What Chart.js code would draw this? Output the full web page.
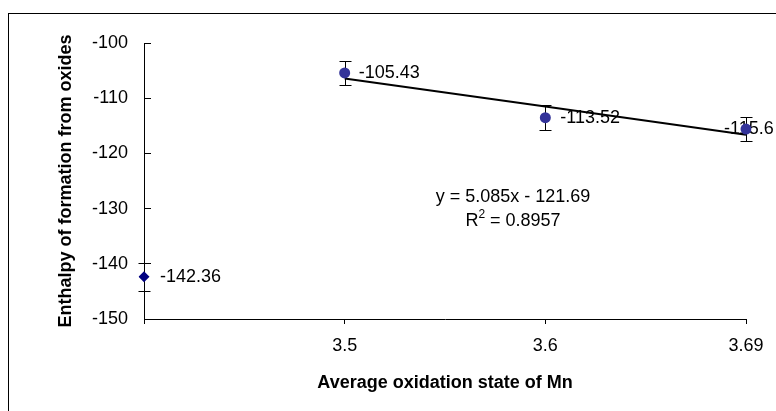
<!DOCTYPE html>
<html>
<head>
<meta charset="utf-8">
<script src="https://cdn.jsdelivr.net/npm/chart.js@4.4.0/dist/chart.umd.min.js"></script>
<style>
body{ margin:0; background:#fff; }
</style>
</head>
<body>
<canvas id="myChart" width="776" height="411"></canvas>
<script>

//------------------------------------------------------------------
// data

const oxidation_state = ['', '3.5', '3.6', '3.69'];
const enthalpy = [-142.36, -105.43, -113.52, -115.6];
const enthalpy_err = [2.5, 2.1, 2.2, 2.2];
const y_ticks = [-150, -140, -130, -120, -110, -100];
const fit_equation = 'y = 5.085x - 121.69';
const fit_r2 = '0.8957';

//------------------------------------------------------------------
// least squares line over the three mixed-valence points (index 1..3)

function fit_line(){
    let n=0, sx=0, sy=0, sxx=0, sxy=0;
    for (let i = 1; i < enthalpy.length; i++) {
        n++; sx+=i; sy+=enthalpy[i]; sxx+=i*i; sxy+=i*enthalpy[i];
    }
    let k = (n*sxy - sx*sy)/(n*sxx - sx*sx);
    let b = (sy - k*sx)/n;
    let out = [null];
    for (let i = 1; i < enthalpy.length; i++) out.push(k*i+b);
    return out;
}

//------------------------------------------------------------------

const point_style = ['rectRot', 'circle', 'circle', 'circle'];
const point_color = ['#000080', '#333399', '#333399', '#333399'];
const point_size  = [5.5, 5.5, 5.5, 5.5];
const label_dx    = [16, 14, 15, -22];

Chart.defaults.font.family = "'Liberation Sans', Arial, sans-serif";
Chart.defaults.font.size = 18;
Chart.defaults.color = '#000';

// outer frame of the chart
const frame_plugin = {
    id: 'frame',
    beforeDraw(chart){
        const c = chart.ctx;
        c.save();
        c.strokeStyle = '#000';
        c.lineWidth = 1;
        c.strokeRect(8.5, 13.5, 820, 430);
        c.restore();
    }
};

// error bars + value labels
const err_plugin = {
    id: 'errbars',
    beforeDatasetsDraw(chart){
        const c = chart.ctx;
        const xs = chart.scales.x, ys = chart.scales.y;
        c.save();
        c.strokeStyle = '#000';
        c.lineWidth = 1;
        for (let i = 0; i < enthalpy.length; i++) {
            let px = Math.round(xs.getPixelForValue(i)) + 0.5;
            let y1 = Math.round(ys.getPixelForValue(enthalpy[i] + enthalpy_err[i])) + 0.5;
            let y2 = Math.round(ys.getPixelForValue(enthalpy[i] - enthalpy_err[i])) + 0.5;
            c.beginPath();
            c.moveTo(px, y1); c.lineTo(px, y2);
            c.moveTo(px-6, y1); c.lineTo(px+6, y1);
            c.moveTo(px-6, y2); c.lineTo(px+6, y2);
            c.stroke();
        }
        c.fillStyle = '#000';
        c.font = "18px 'Liberation Sans', Arial, sans-serif";
        c.textBaseline = 'middle';
        c.textAlign = 'left';
        for (let i = 0; i < enthalpy.length; i++) {
            let px = xs.getPixelForValue(i);
            let py = ys.getPixelForValue(enthalpy[i]);
            c.fillText(String(enthalpy[i]), px + label_dx[i], py);
        }

        // trend equation
        c.textAlign = 'center';
        c.fillText(fit_equation, 513, 197);
        let t1 = 'R', t3 = ' = ' + fit_r2;
        let w1 = c.measureText(t1).width, w3 = c.measureText(t3).width;
        c.font = "12px 'Liberation Sans', Arial, sans-serif";
        let w2 = c.measureText('2').width;
        let x0 = 513 - (w1+w2+w3)/2;
        c.textAlign = 'left';
        c.fillText('2', x0 + w1, 215);
        c.font = "18px 'Liberation Sans', Arial, sans-serif";
        c.fillText(t1, x0, 221);
        c.fillText(t3, x0 + w1 + w2, 221);
        c.restore();
    }
};

const ctx = document.getElementById('myChart');

const kave_chart = new Chart(ctx, {
    type: 'line',
    data: {
        labels: oxidation_state,
        datasets: [{
            data: enthalpy,
            showLine: false,
            pointStyle: point_style,
            pointRadius: point_size,
            pointBackgroundColor: point_color,
            pointBorderColor: point_color,
            pointBorderWidth: 0,
            order: 0
        }, {
            data: fit_line(),
            borderColor: '#000',
            borderWidth: 2,
            pointRadius: 0,
            fill: false,
            order: 1
        }]
    },
    options: {
        responsive: false,
        animation: false,
        layout: { padding: { top: 43, right: 30, bottom: 0, left: 0 } },
        plugins: {
            legend: { display: false },
            tooltip: { enabled: false }
        },
        scales: {
            x: {
                type: 'category',
                offset: false,
                grid: { drawOnChartArea: false, drawTicks: true, tickLength: 5, color: '#000' },
                border: { color: '#000', width: 1 },
                ticks: { padding: 11, maxRotation: 0, autoSkip: false },
                title: {
                    display: true,
                    text: 'Average oxidation state of Mn',
                    font: { weight: 'bold', size: 18 },
                    padding: { top: 0, bottom: 17 }
                },
                afterFit(s){ s.height = 92; }
            },
            y: {
                min: -150,
                max: -100,
                afterBuildTicks(s){ s.ticks = y_ticks.map(v => ({ value: v })); },
                grid: { drawOnChartArea: false, drawTicks: true, tickLength: -7, color: '#000' },
                border: { color: '#000', width: 1 },
                ticks: { padding: 23 },
                title: {
                    display: true,
                    text: 'Enthalpy of formation from oxides',
                    font: { weight: 'bold', size: 18 },
                    padding: { top: 55, bottom: 0 }
                },
                afterFit(s){ s.width = 144; }
            }
        }
    },
    plugins: [frame_plugin, err_plugin]
});

</script>
</body>
</html>
